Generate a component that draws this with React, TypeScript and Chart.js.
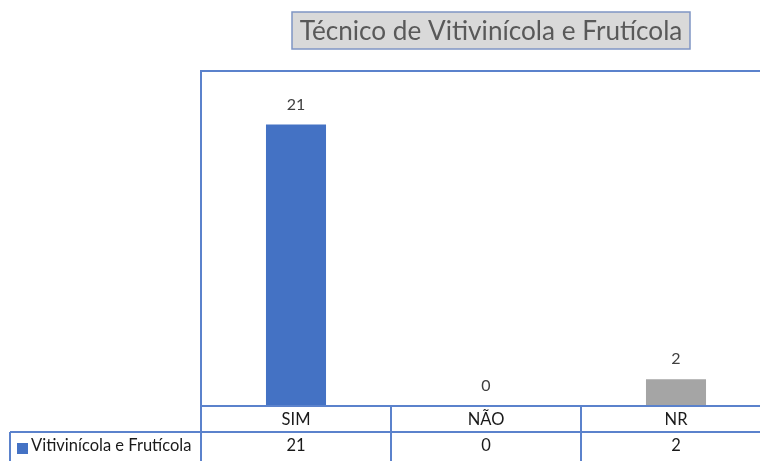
import React, { useEffect, useRef } from "react";
import { Chart, registerables } from "chart.js";

Chart.register(...registerables);

const titleText = "Técnico de Vitivinícola e Frutícola";
const seriesName = "Vitivinícola e Frutícola";
const categories = ["SIM", "NÃO", "NR"];
const values = [21, 0, 2];
const barColors = ["#4472C4", "#4472C4", "#A5A5A5"];
const yMax = 25;

const FONT = "Lato, 'Open Sans', sans-serif";
const LINE = "#5B82CC";

const decorPlugin = {
  id: "decor",
  afterDraw(chart: any) {
    const ctx = chart.ctx as CanvasRenderingContext2D;
    const area = chart.chartArea;
    const xs = chart.scales.x;
    const meta = chart.getDatasetMeta(0);
    const n = categories.length;
    const catW = (area.right - area.left) / n;
    ctx.save();

    // data labels
    ctx.fillStyle = "#404040";
    ctx.font = `16px ${FONT}`;
    ctx.textAlign = "center";
    ctx.textBaseline = "middle";
    meta.data.forEach((bar: any, i: number) => {
      ctx.fillText(String(values[i]), bar.x, bar.y - 20);
    });

    // plot border
    ctx.strokeStyle = LINE;
    ctx.lineWidth = 2;
    ctx.beginPath();
    ctx.moveTo(area.left, area.bottom);
    ctx.lineTo(area.left, area.top);
    ctx.lineTo(area.right, area.top);
    ctx.lineTo(area.right, area.bottom);
    ctx.stroke();

    // table grid
    const row1 = area.bottom;
    const row2 = area.bottom + 26;
    const tBottom = chart.height;
    const legendLeft = 10;
    ctx.beginPath();
    ctx.moveTo(area.left, row1);
    ctx.lineTo(area.right, row1);
    ctx.moveTo(legendLeft, row2);
    ctx.lineTo(area.right, row2);
    ctx.moveTo(legendLeft, row2);
    ctx.lineTo(legendLeft, tBottom);
    for (let i = 0; i <= n; i++) {
      const x = area.left + i * catW;
      ctx.moveTo(x, row1);
      ctx.lineTo(x, tBottom);
    }
    ctx.stroke();

    // table text
    ctx.fillStyle = "#1a1a1a";
    ctx.font = `16.5px ${FONT}`;
    ctx.textAlign = "center";
    categories.forEach((c, i) => {
      const cx = xs.getPixelForValue(i);
      ctx.fillText(c, cx, (row1 + row2) / 2 + 1);
      ctx.fillText(String(values[i]), cx, row2 + 14);
    });
    // legend key
    ctx.fillStyle = "#4472C4";
    ctx.fillRect(17, row2 + 11, 11, 11);
    ctx.fillStyle = "#1a1a1a";
    ctx.textAlign = "left";
    ctx.fillText(seriesName, 31, row2 + 14);

    // title box
    const boxL = 292, boxR = 690, boxT = 12, boxB = 49;
    ctx.fillStyle = "#D9D9D9";
    ctx.fillRect(boxL, boxT, boxR - boxL, boxB - boxT);
    ctx.strokeStyle = "#7F95C4";
    ctx.lineWidth = 1.5;
    ctx.strokeRect(boxL, boxT, boxR - boxL, boxB - boxT);
    let fs = 24;
    ctx.font = `${fs}px ${FONT}`;
    const w = ctx.measureText(titleText).width;
    fs = fs * (383 / w);
    ctx.font = `${fs}px ${FONT}`;
    ctx.fillStyle = "#595959";
    ctx.textAlign = "center";
    ctx.textBaseline = "middle";
    ctx.fillText(titleText, (boxL + boxR) / 2, (boxT + boxB) / 2 + 1);

    ctx.restore();
  },
};

export default function App() {
  const ref = useRef<HTMLCanvasElement | null>(null);
  useEffect(() => {
    if (!ref.current) return;
    const chart = new Chart(ref.current, {
      type: "bar",
      data: {
        labels: categories,
        datasets: [
          {
            label: seriesName,
            data: values,
            backgroundColor: barColors,
            borderWidth: 0,
            barPercentage: 0.316,
            categoryPercentage: 1,
          },
        ],
      },
      options: {
        responsive: false,
        animation: false,
        devicePixelRatio: 1,
        layout: { padding: { left: 201, right: 1, top: 71, bottom: 55 } },
        plugins: {
          legend: { display: false },
          title: { display: false },
          tooltip: { enabled: false },
        },
        scales: {
          x: { display: false, offset: true },
          y: { display: false, min: 0, max: yMax },
        },
      },
      plugins: [decorPlugin],
    });
    return () => chart.destroy();
  }, []);
  return (
    <div
      style={{
        position: "fixed",
        left: 0,
        top: 0,
        width: 760,
        height: 461,
        overflow: "hidden",
        background: "#fff",
      }}
    >
      <canvas ref={ref} width={772} height={461} style={{ display: "block" }} />
    </div>
  );
}
